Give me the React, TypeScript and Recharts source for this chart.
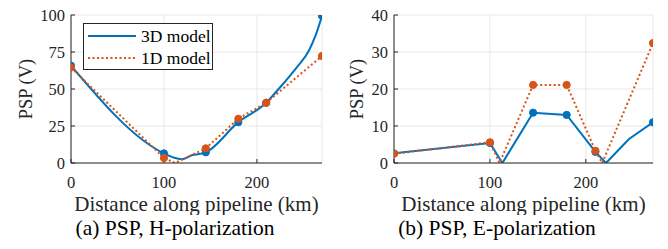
import { CartesianGrid, Legend, Line, LineChart, XAxis, YAxis } from "recharts";

const BLUE = "#0072BD";
const ORANGE = "#D95319";
const AXIS = "#262626";
const SERIF = "'Liberation Serif', 'Times New Roman', serif";

const xTicks = [0, 100, 200];

// (a) H-polarization
const hTicks = [0, 25, 50, 75, 100];
const hStationKm = [0, 100, 145, 180, 210, 270];
const h3D = [65.8, 6.5, 7.2, 27.6, 40.7, 99.5];
const h1D = [64.5, 3.4, 9.9, 29.9, 40.7, 72.3];
const h3DCurveKm = [0, 100, 110, 119, 130, 145, 180, 210, 224, 242, 256, 263, 270];
const h3DCurve = [65.8, 6.5, 3.8, 2.6, 5.2, 7.2, 27.6, 40.7, 50.5, 64, 76, 86, 99.5];
const h1DCurveKm = [0, 100, 112, 145, 180, 210, 270];
const h1DCurve = [64.5, 3.4, 0, 9.9, 29.9, 40.7, 72.3];

// (b) E-polarization
const eTicks = [0, 10, 20, 30, 40];
const eStationKm = [0, 100, 145, 180, 210, 270];
const e3D = [2.6, 5.4, 13.6, 13.0, 3.0, 11.0];
const e1D = [2.5, 5.6, 21.1, 21.1, 3.3, 32.4];
const e3DCurveKm = [0, 100, 113, 145, 180, 210, 221, 245, 270];
const e3DCurve = [2.6, 5.4, 0, 13.6, 13.0, 3.0, 0, 6.5, 11.0];
const e1DCurveKm = [0, 100, 110, 145, 180, 210, 217, 270];
const e1DCurve = [2.5, 5.6, 0, 21.1, 21.1, 3.3, 0, 32.4];

const zip = (km: number[], v: number[]) => km.map((x, i) => ({ km: x, v: v[i] }));

const legendItems = [
  { label: "3D model", color: BLUE, dash: undefined },
  { label: "1D model", color: ORANGE, dash: "2 2.5" },
];

const renderLegend = () => (
  <div
    style={{
      width: 130,
      height: 47,
      boxSizing: "border-box",
      border: `1px solid ${AXIS}`,
      background: "#fff",
      paddingTop: 1,
      fontFamily: SERIF,
    }}
  >
    {legendItems.map((it) => (
      <div key={it.label} style={{ display: "flex", alignItems: "center", height: 22 }}>
        <svg width={54} height={10} style={{ marginLeft: 3 }}>
          <line x1={1} x2={49} y1={5} y2={5} stroke={it.color} strokeWidth={2} strokeDasharray={it.dash} />
        </svg>
        <span style={{ fontSize: 17.5, color: "#000", lineHeight: "22px" }}>{it.label}</span>
      </div>
    ))}
  </div>
);

type PanelProps = {
  yTicks: number[];
  curve3D: { km: number; v: number }[];
  curve1D: { km: number; v: number }[];
  marks3D: { km: number; v: number }[];
  marks1D: { km: number; v: number }[];
  yAxisWidth: number;
  rightMargin: number;
  labelOffset: number;
  smooth3D: boolean;
  legend?: boolean;
};

const Panel: React.FC<PanelProps> = (p) => {
  const yMax = p.yTicks[p.yTicks.length - 1];
  const tickStyle = { fill: AXIS, fontSize: 16.5, fontFamily: SERIF };
  return (
    <LineChart
      width={334}
      height={215}
      margin={{ top: 15, right: p.rightMargin, left: 0, bottom: 0 }}
      style={{ fontFamily: SERIF }}
    >
      <CartesianGrid stroke="#e8e8e8" strokeWidth={1} />
      <XAxis
        dataKey="km"
        type="number"
        domain={[0, 270]}
        ticks={xTicks}
        allowDataOverflow
        height={52}
        tick={tickStyle}
        tickSize={-4}
        tickMargin={17}
        stroke={AXIS}
        label={{
          value: "Distance along pipeline (km)",
          position: "insideBottom",
          offset: 4,
          fill: AXIS,
          fontSize: 21,
          fontFamily: SERIF,
        }}
      />
      <XAxis
        xAxisId="top"
        orientation="top"
        dataKey="km"
        type="number"
        domain={[0, 270]}
        ticks={xTicks}
        height={0}
        tickSize={-4}
        tickFormatter={() => ""}
        stroke={AXIS}
      />
      <YAxis
        type="number"
        domain={[0, yMax]}
        ticks={p.yTicks}
        allowDataOverflow
        width={p.yAxisWidth}
        tick={tickStyle}
        tickSize={-4}
        tickMargin={10}
        stroke={AXIS}
        label={{
          value: "PSP (V)",
          angle: -90,
          position: "insideLeft",
          offset: p.labelOffset,
          fill: AXIS,
          fontSize: 18.5,
          fontFamily: SERIF,
          style: { textAnchor: "middle" },
        }}
      />
      <YAxis
        yAxisId="right"
        orientation="right"
        type="number"
        domain={[0, yMax]}
        ticks={p.yTicks}
        width={0}
        tickSize={-4}
        tickFormatter={() => ""}
        stroke={AXIS}
      />
      <Line
        data={p.curve3D}
        dataKey="v"
        type={p.smooth3D ? "monotone" : "linear"}
        stroke={BLUE}
        strokeWidth={2}
        dot={false}
        activeDot={false}
        isAnimationActive={false}
      />
      <Line
        data={p.marks3D}
        dataKey="v"
        stroke="none"
        dot={{ r: 3.6, fill: BLUE, stroke: BLUE, strokeWidth: 1 }}
        activeDot={false}
        isAnimationActive={false}
      />
      <Line
        data={p.curve1D}
        dataKey="v"
        type="linear"
        stroke={ORANGE}
        strokeWidth={2}
        strokeDasharray="2 2.5"
        dot={false}
        activeDot={false}
        isAnimationActive={false}
      />
      <Line
        data={p.marks1D}
        dataKey="v"
        stroke="none"
        dot={{ r: 3.6, fill: ORANGE, stroke: ORANGE, strokeWidth: 1 }}
        activeDot={false}
        isAnimationActive={false}
      />
      {p.legend && (
        <Legend
          content={renderLegend}
          verticalAlign="middle"
          align="center"
          wrapperStyle={{ left: 83, top: 23, width: 130, height: 47 }}
        />
      )}
    </LineChart>
  );
};

const captionStyle: React.CSSProperties = {
  position: "absolute",
  top: 215,
  width: 260,
  textAlign: "center",
  fontSize: 21.5,
  lineHeight: "26px",
  color: "#000",
  fontFamily: SERIF,
};

export default function App() {
  return (
    <div
      style={{
        position: "absolute",
        left: 0,
        top: 0,
        width: 668,
        height: 249,
        background: "#fff",
        fontFamily: SERIF,
      }}
    >
      <div style={{ position: "absolute", left: 0, top: 0 }}>
        <Panel
          yTicks={hTicks}
          curve3D={zip(h3DCurveKm, h3DCurve)}
          curve1D={zip(h1DCurveKm, h1DCurve)}
          marks3D={zip(hStationKm, h3D)}
          marks1D={zip(hStationKm, h1D)}
          yAxisWidth={71}
          rightMargin={12}
          labelOffset={25}
          smooth3D
          legend
        />
      </div>
      <div style={{ position: "absolute", left: 334, top: 0 }}>
        <Panel
          yTicks={eTicks}
          curve3D={zip(e3DCurveKm, e3DCurve)}
          curve1D={zip(e1DCurveKm, e1DCurve)}
          marks3D={zip(eStationKm, e3D)}
          marks1D={zip(eStationKm, e1D)}
          yAxisWidth={60}
          rightMargin={15}
          labelOffset={22}
          smooth3D={false}
        />
      </div>
      <div style={{ ...captionStyle, left: 175 - 130 }}>(a) PSP, H-polarization</div>
      <div style={{ ...captionStyle, left: 497 - 130 }}>(b) PSP, E-polarization</div>
    </div>
  );
}
